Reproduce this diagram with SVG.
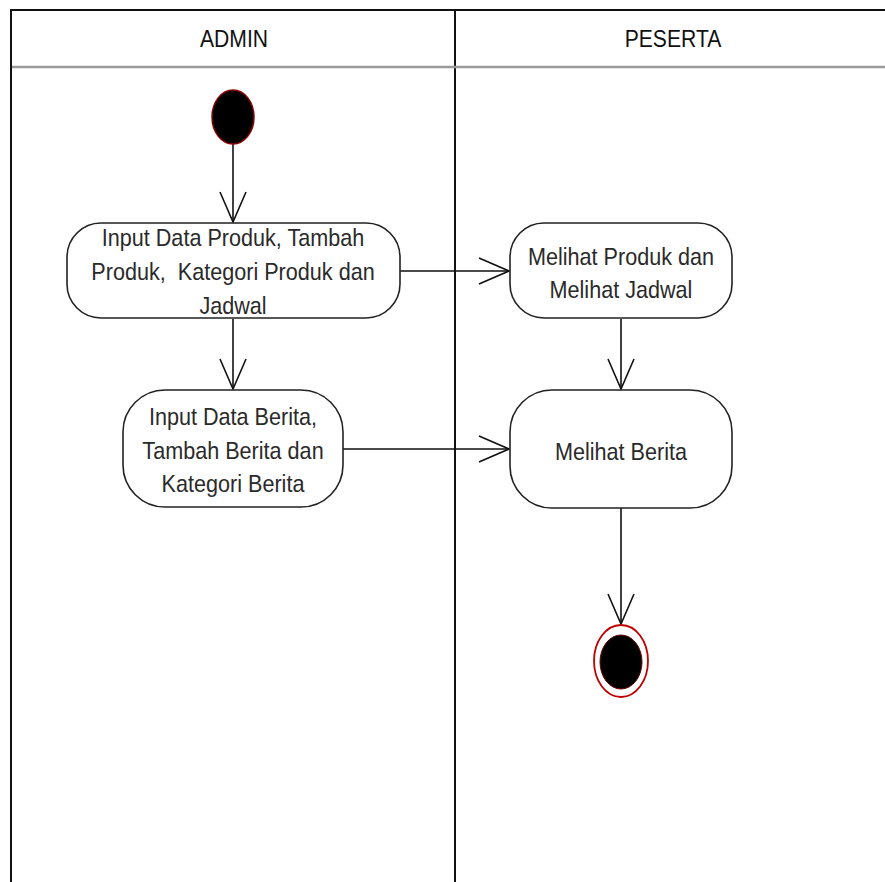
<svg xmlns="http://www.w3.org/2000/svg" width="885" height="882" viewBox="0 0 885 882">
<style>
.lane{stroke:#111;stroke-width:2;fill:none}
.hdr{stroke:#9a9a9a;stroke-width:2.5;fill:none}
.node{fill:#fff;stroke:#222;stroke-width:1.6}
.t{font-family:"Liberation Sans",Arial,sans-serif;font-size:24px;fill:#2a2a2a;text-anchor:middle}
.h{font-family:"Liberation Sans",Arial,sans-serif;font-size:24px;fill:#111;text-anchor:middle}
.edge{stroke:#111;stroke-width:1.6;fill:none;marker-end:url(#arr)}
</style>
<defs>
<marker id="arr" markerUnits="userSpaceOnUse" markerWidth="40" markerHeight="40" refX="32" refY="14" orient="auto" viewBox="0 0 40 28">
<path d="M2,1 L32,14 L2,27" fill="none" stroke="#111" stroke-width="1.6"/>
</marker>
</defs>
<rect width="885" height="882" fill="#fff"/>
<g id="lanes">
<line class="lane" x1="10" y1="10" x2="885" y2="10"/>
<line class="lane" x1="11" y1="10" x2="11" y2="882"/>
<line class="lane" x1="455" y1="10" x2="455" y2="882" stroke="#444"/>
<line class="hdr" x1="12" y1="67" x2="885" y2="67"/>
<text class="h" transform="translate(234,47) scale(0.88,1)">ADMIN</text>
<text class="h" transform="translate(673,47) scale(0.88,1)">PESERTA</text>
</g>
<g id="connectors">
<line class="edge" x1="233" y1="144" x2="233" y2="222"/>
<line class="edge" x1="400" y1="271" x2="509" y2="271"/>
<line class="edge" x1="233" y1="319" x2="233" y2="389"/>
<line class="edge" x1="621" y1="319" x2="621" y2="389"/>
<line class="edge" x1="343" y1="449" x2="509" y2="449"/>
<line class="edge" x1="621" y1="508" x2="621" y2="624"/>
</g>
<g id="start">
<ellipse cx="233" cy="117" rx="21" ry="27" fill="#000" stroke="#8a0000" stroke-width="1.5"/>
</g>
<g id="n1">
<rect class="node" x="67" y="223" width="333" height="95" rx="34" ry="34"/>
<text class="t" transform="translate(233,246) scale(0.9,1)">Input Data Produk, Tambah</text>
<text class="t" transform="translate(233,280) scale(0.9,1)" xml:space="preserve">Produk,  Kategori Produk dan</text>
<text class="t" transform="translate(233,314) scale(0.9,1)">Jadwal</text>
</g>
<g id="n2">
<rect class="node" x="510" y="223" width="222" height="95" rx="34" ry="34"/>
<text class="t" transform="translate(621,265) scale(0.9,1)">Melihat Produk dan</text>
<text class="t" transform="translate(621,298) scale(0.9,1)">Melihat Jadwal</text>
</g>
<g id="n3">
<rect class="node" x="123" y="390" width="220" height="117" rx="42" ry="42"/>
<text class="t" transform="translate(233,425) scale(0.9,1)">Input Data Berita,</text>
<text class="t" transform="translate(233,459) scale(0.9,1)">Tambah Berita dan</text>
<text class="t" transform="translate(233,492) scale(0.9,1)">Kategori Berita</text>
</g>
<g id="n4">
<rect class="node" x="510" y="390" width="222" height="118" rx="42" ry="42"/>
<text class="t" transform="translate(621,460) scale(0.9,1)">Melihat Berita</text>
</g>
<g id="end">
<ellipse cx="621" cy="661" rx="27" ry="36" fill="#fff" stroke="#c00000" stroke-width="1.8"/>
<ellipse cx="621" cy="662" rx="21" ry="27" fill="#000" stroke="#6a0000" stroke-width="1"/>
</g>
</svg>
